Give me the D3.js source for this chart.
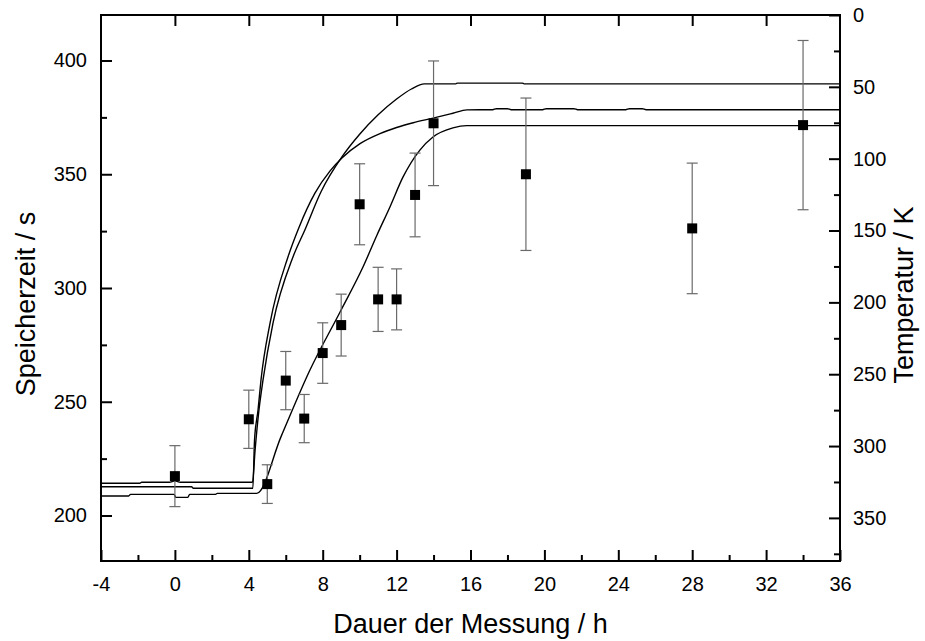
<!DOCTYPE html>
<html>
<head>
<meta charset="utf-8">
<script src="https://cdn.jsdelivr.net/npm/d3@7"></script>
<style>
  body { margin: 0; background: #fff; }
  text { font-family: "Liberation Sans", Arial, Helvetica, sans-serif; fill: #000; }
</style>
</head>
<body>
<svg id="chart" width="925" height="641"></svg>
<script>
// Storage time measurements (s) with uncertainties, vs. measurement duration (h)
const hours       = [0, 4, 5, 6, 7, 8, 9, 10, 11, 12, 13, 14, 19, 28, 34];
const storageTime = [217.3, 242.3, 213.8, 259.3, 242.6, 271.4, 283.7, 336.8, 295.0, 295.0, 340.9, 372.4, 350.0, 326.2, 371.6];
const storageErr  = [13.4, 12.8, 8.5, 12.8, 10.6, 13.3, 13.6, 17.8, 14.1, 13.4, 18.4, 27.4, 33.5, 28.7, 37.2];

// Temperature logs (K) vs. time (h) for three sensors
const tempA = [[-4,325.9],[-1.9,325.9],[-1.8,325.2],[-0.3,325.2],[0,324.2],[0.3,325.2],[4.2,325.2],
  [4.34,302.8],[4.55,274.9],[4.77,254.0],[5.31,214.4],[6.39,168.4],[7.04,149.4],[7.91,123.0],
  [9.04,98.8],[10.0,83.0],[11.0,69.5],[12.0,58.5],[12.8,51.5],[13.5,47.9],
  [15.2,47.9],[15.3,47.4],[18.8,47.4],[18.9,47.9],[36,47.9]];
const tempB = [[-4,328.3],[0.9,328.3],[1.0,329.4],[4.22,329.4],
  [4.31,295.8],[4.5,274.9],[4.66,254.0],[5.15,214.4],[6.12,168.4],[6.71,148.0],[7.58,124.0],
  [8.4,108.5],[9.04,99.5],[10.02,89.5],[11.1,82.5],[12.0,78.3],[12.9,75.0],[13.97,71.8],
  [15.05,68.4],[15.8,66.0],[17.2,65.9],[17.4,65.2],[18.0,65.2],[18.2,65.9],
  [19.9,65.9],[20.1,65.2],[21.6,65.2],[21.8,65.9],[24.4,65.9],[24.6,65.2],[25.3,65.2],[25.5,65.9],[36,65.9]];
const tempC = [[-4,334.8],[-2.5,334.8],[-2.4,333.6],[-0.05,333.6],[0.05,335.7],[0.7,335.7],[0.8,333.6],
  [2.2,333.6],[2.3,332.9],[4.43,332.9],
  [5.74,293.6],[7.31,247.1],[8.94,206.7],[10.18,175.4],[10.94,153.1],[11.64,133.6],[12.35,112.7],
  [13.26,94.0],[13.97,84.9],[15.05,78.6],[15.8,77.0],[36,77.0]];

// Axis tick values
const xMajor = d3.range(-4, 37, 4);
const xMinor = d3.range(-2, 36, 4);
const xTop   = d3.range(0, 33, 4);
const yMajor = d3.range(200, 401, 50);
const yMinor = d3.range(225, 401, 50);
const tMajor = d3.range(0, 351, 50);
const tMinor = d3.range(25, 380, 50);

const svg = d3.select("#chart");
const L = 101, R = 840, T = 15, B = 561;

const x  = d3.scaleLinear().domain([-4, 36]).range([L, R]);
const yL = d3.scaleLinear().domain([180, 420]).range([B, T]);
const yR = d3.scaleLinear().domain([0, 380]).range([T, B]);

const plain = d => String(d);

function styleAxis(g) {
  g.select(".domain").remove();
  g.selectAll(".tick line").attr("stroke", "#000").attr("stroke-width", 2);
  g.selectAll(".tick text").attr("font-size", 20).attr("fill", "#000")
    .style("font-family", "'Liberation Sans', Arial, sans-serif");
}

// Bottom axis
svg.append("g").attr("transform", `translate(0,${B})`)
  .call(d3.axisBottom(x).tickValues(xMajor).tickSize(-11).tickPadding(16).tickFormat(plain))
  .call(styleAxis);
svg.append("g").attr("transform", `translate(0,${B})`)
  .call(d3.axisBottom(x).tickValues(xMinor).tickSize(-6).tickFormat(""))
  .call(styleAxis);
// Top axis
svg.append("g").attr("transform", `translate(0,${T})`)
  .call(d3.axisTop(x).tickValues(xTop).tickSize(-11).tickFormat(""))
  .call(styleAxis);
// Left axis
svg.append("g").attr("transform", `translate(${L},0)`)
  .call(d3.axisLeft(yL).tickValues(yMajor).tickSize(-11).tickPadding(14).tickFormat(plain))
  .call(styleAxis);
svg.append("g").attr("transform", `translate(${L},0)`)
  .call(d3.axisLeft(yL).tickValues(yMinor).tickSize(-6).tickFormat(""))
  .call(styleAxis);
// Right axis (temperature)
svg.append("g").attr("transform", `translate(${R},0)`)
  .call(d3.axisRight(yR).tickValues(tMajor).tickSize(-11).tickPadding(13).tickFormat(plain))
  .call(styleAxis);
svg.append("g").attr("transform", `translate(${R},0)`)
  .call(d3.axisRight(yR).tickValues(tMinor).tickSize(-6).tickFormat(""))
  .call(styleAxis);

// Frame
svg.append("rect").attr("x", L).attr("y", T).attr("width", R - L).attr("height", B - T)
  .attr("fill", "none").attr("stroke", "#000").attr("stroke-width", 2);

// Temperature curves
const tLine = d3.line().x(d => x(d[0])).y(d => yR(d[1])).curve(d3.curveMonotoneX);
[tempA, tempB, tempC].forEach(c => {
  svg.append("path").datum(c).attr("d", tLine)
    .attr("fill", "none").attr("stroke", "#000").attr("stroke-width", 1.4)
    .attr("stroke-linejoin", "round");
});

// Error bars
const pts = hours.map((h, i) => ({ h, v: storageTime[i], e: storageErr[i] }));
const eb = svg.append("g").attr("stroke", "#6a6a6a").attr("stroke-width", 1.2).attr("fill", "none");
pts.forEach(p => {
  const cx = x(p.h);
  eb.append("line").attr("x1", cx).attr("x2", cx).attr("y1", yL(p.v - p.e)).attr("y2", yL(p.v + p.e));
  eb.append("line").attr("x1", cx - 5.5).attr("x2", cx + 5.5).attr("y1", yL(p.v + p.e)).attr("y2", yL(p.v + p.e));
  eb.append("line").attr("x1", cx - 5.5).attr("x2", cx + 5.5).attr("y1", yL(p.v - p.e)).attr("y2", yL(p.v - p.e));
});

// Data squares
svg.append("g").selectAll("rect").data(pts).join("rect")
  .attr("x", d => x(d.h) - 5).attr("y", d => yL(d.v) - 5)
  .attr("width", 10).attr("height", 10).attr("fill", "#000");

// Axis titles
svg.append("text").attr("x", (L + R) / 2).attr("y", 633).attr("text-anchor", "middle")
  .attr("font-size", 27).text("Dauer der Messung / h");
svg.append("text").attr("transform", "translate(35,304) rotate(-90)").attr("text-anchor", "middle")
  .attr("font-size", 27).text("Speicherzeit / s");
svg.append("text").attr("transform", "translate(913,295) rotate(-90)").attr("text-anchor", "middle")
  .attr("font-size", 27).text("Temperatur / K");
</script>
</body>
</html>
